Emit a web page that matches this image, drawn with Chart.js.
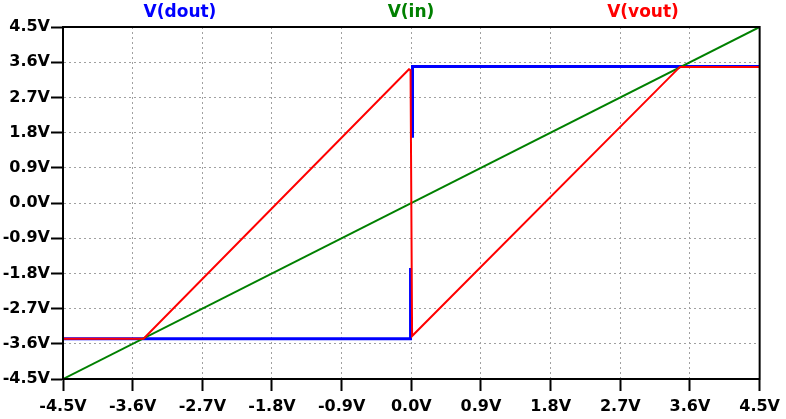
<!DOCTYPE html>
<html>
<head>
<meta charset="utf-8">
<script src="https://cdn.jsdelivr.net/npm/chart.js@4/dist/chart.umd.min.js"></script>
<style>
  html, body { margin: 0; padding: 0; background: #fff; }
  #wrap { width: 786px; height: 419px; }
</style>
</head>
<body>
<div id="wrap"><canvas id="plot"></canvas></div>
<script>
// tick values (volts) for both axes
const tickValues = [-4.5, -3.6, -2.7, -1.8, -0.9, 0.0, 0.9, 1.8, 2.7, 3.6, 4.5];

// V(in): straight ramp
const vinX = [-4.5, 4.5];
const vinY = [-4.5, 4.5];

// V(dout): comparator output (null = gap, red trace covers the jump)
const doutX = [-4.5, -0.01, -0.01, 0, 0.015, 0.015, 4.5];
const doutY = [-3.47, -3.47, -1.66, null, 1.67, 3.49, 3.49];

// V(vout)
const voutX = [-4.5, -3.46, -0.03, -0.01, 0.01, 3.47, 4.5];
const voutY = [-3.47, -3.47, 3.42, 3.40, -3.40, 3.48, 3.48];

const seriesNames = ['V(dout)', 'V(in)', 'V(vout)'];
const seriesColors = ['#0000ff', '#008000', '#ff0000'];

const toPoints = (xs, ys) => xs.map((x, i) => ({ x: x, y: ys[i] }));

// frame round the whole plot area + trace names on top
const framePlugin = {
  id: 'frame',
  afterDatasetsDraw(chart) {
    const { ctx, chartArea: a } = chart;
    ctx.save();
    ctx.strokeStyle = '#000';
    ctx.lineWidth = 2;
    ctx.strokeRect(a.left, a.top, a.right - a.left, a.bottom - a.top);
    ctx.restore();
  },
  afterDraw(chart) {
    const ctx = chart.ctx;
    const centers = [180, 411, 643];
    ctx.save();
    ctx.font = 'bold 17px "DejaVu Sans"';
    ctx.textAlign = 'center';
    ctx.textBaseline = 'middle';
    seriesNames.forEach((name, i) => {
      ctx.fillStyle = seriesColors[i];
      ctx.fillText(name, centers[i], 13);
    });
    ctx.restore();
  }
};

const axisOpts = {
  type: 'linear',
  min: -4.5,
  max: 4.5,
  afterBuildTicks: scale => { scale.ticks = tickValues.map(v => ({ value: v })); },
  grid: {
    color: '#a0a0a0',
    lineWidth: 1,
    drawTicks: true,
    tickLength: 12,
    tickColor: '#000',
    tickWidth: 2
  },
  border: { display: true, color: '#000', width: 2, dash: [2, 3] },
  ticks: {
    color: '#000',
    font: { family: 'DejaVu Sans', size: 16, weight: 'bold' },
    callback: v => v.toFixed(1) + 'V',
    autoSkip: false,
    maxRotation: 0
  }
};

new Chart(document.getElementById('plot'), {
  type: 'scatter',
  data: {
    datasets: [
      {
        label: seriesNames[0],
        data: toPoints(doutX, doutY),
        borderColor: seriesColors[0],
        borderWidth: 3,
        showLine: true,
        pointRadius: 0,
        spanGaps: false,
        order: 3
      },
      {
        label: seriesNames[1],
        data: toPoints(vinX, vinY),
        borderColor: seriesColors[1],
        borderWidth: 2,
        showLine: true,
        pointRadius: 0,
        order: 2
      },
      {
        label: seriesNames[2],
        data: toPoints(voutX, voutY),
        borderColor: seriesColors[2],
        borderWidth: 2,
        showLine: true,
        pointRadius: 0,
        order: 1
      }
    ]
  },
  options: {
    responsive: true,
    maintainAspectRatio: false,
    animation: false,
    layout: { padding: { left: 0, right: 26, top: 27, bottom: 0 } },
    plugins: {
      legend: { display: false },
      tooltip: { enabled: false }
    },
    scales: {
      x: Object.assign({}, axisOpts, {
        ticks: Object.assign({}, axisOpts.ticks, { padding: 6 }),
        afterFit: s => { s.height = 40; }
      }),
      y: Object.assign({}, axisOpts, {
        ticks: Object.assign({}, axisOpts.ticks, { padding: 1 }),
        afterFit: s => { s.width = 63; }
      })
    }
  },
  plugins: [framePlugin]
});
</script>
</body>
</html>
